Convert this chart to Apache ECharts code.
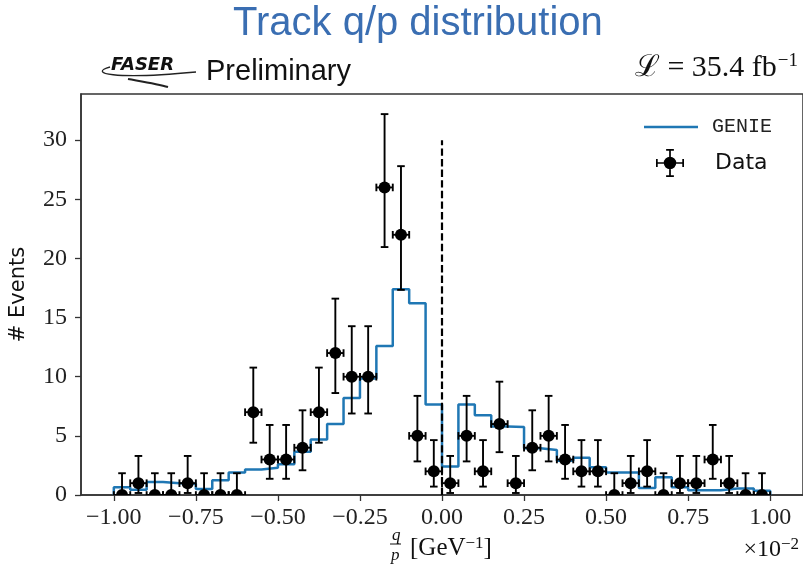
<!DOCTYPE html>
<html>
<head>
<meta charset="utf-8">
<script src="https://cdn.jsdelivr.net/npm/echarts@6/dist/echarts.min.js"></script>
<style>
html, body { margin: 0; padding: 0; background: #fff; }
#chart { width: 803px; height: 576px; }
</style>
</head>
<body>
<div id="chart"></div>
<script>
// histogram bins in q/p (x 10^-2 GeV^-1)
const binEdges = [-1.0, -0.95, -0.9, -0.85, -0.8, -0.75, -0.7, -0.65, -0.6, -0.55,
    -0.5, -0.45, -0.4, -0.35, -0.3, -0.25, -0.2, -0.15, -0.1, -0.05,
    0, 0.05, 0.1, 0.15, 0.2, 0.25, 0.3, 0.35, 0.4, 0.45,
    0.5, 0.55, 0.6, 0.65, 0.7, 0.75, 0.8, 0.85, 0.9, 0.95, 1.0];

// GENIE prediction per bin
const genieCounts = [0.65, 0.45, 1.1, 1.0, 0.95, 0.5, 1.25, 1.9, 2.15, 2.3,
    2.6, 3.65, 4.7, 6.0, 8.2, 9.85, 12.6, 17.4, 16.2, 7.65,
    2.4, 7.65, 6.75, 5.8, 5.75, 3.95, 3.8, 2.9, 3.15, 2.35,
    1.9, 1.9, 0.6, 1.5, 0.65, 0.4, 0.4, 0.55, 0.55, 0.35];

// observed events per bin and error bar bounds
const dataCounts = [0, 1, 0, 0, 1, 0, 0, 0, 7, 3,
    3, 4, 7, 12, 10, 10, 26, 22, 5, 2,
    1, 5, 2, 6, 1, 4, 5, 3, 2, 2,
    0, 1, 2, 0, 1, 1, 3, 1, 0, 0];
const dataErrLow = [0, 0.17, 0, 0, 0.17, 0, 0, 0, 4.42, 1.37,
    1.37, 2.09, 4.42, 8.62, 6.89, 6.89, 20.96, 17.34, 2.84, 0.71,
    0.17, 2.84, 0.71, 3.62, 0.17, 2.09, 2.84, 1.37, 0.71, 0.71,
    0, 0.17, 0.71, 0, 0.17, 0.17, 1.37, 0.17, 0, 0];
const dataErrHigh = [1.84, 3.3, 1.84, 1.84, 3.3, 1.84, 1.84, 1.84, 10.77, 5.92,
    5.92, 7.16, 10.77, 16.6, 14.27, 14.27, 32.2, 27.8, 8.38, 4.64,
    3.3, 8.38, 4.64, 9.58, 3.3, 7.16, 8.38, 5.92, 4.64, 4.64,
    1.84, 3.3, 4.64, 1.84, 3.3, 3.3, 5.92, 3.3, 1.84, 1.84];

const xTicks = [-1, -0.75, -0.5, -0.25, 0, 0.25, 0.5, 0.75, 1];
const yTicks = [0, 5, 10, 15, 20, 25, 30];
const cutLine = [[0, 0], [0, 30]];

const blue = '#1f77b4';
const axisColor = '#333';
const serif = "'Liberation Serif', 'DejaVu Serif', serif";
const sans = "'DejaVu Sans', sans-serif";

// step outline of the GENIE histogram
const genieLine = [[binEdges[0], 0]];
genieCounts.forEach((v, i) => genieLine.push([binEdges[i], v]));
genieLine.push([binEdges[binEdges.length - 1], genieCounts[genieCounts.length - 1]]);
genieLine.push([binEdges[binEdges.length - 1], 0]);

const dataPoints = dataCounts.map((n, i) => [
    (binEdges[i] + binEdges[i + 1]) / 2, n, dataErrLow[i], dataErrHigh[i], binEdges[i], binEdges[i + 1]
]);

function renderData(params, api) {
    const x = api.value(0), y = api.value(1);
    const c = api.coord([x, y]);
    const lo = api.coord([x, api.value(2)]);
    const hi = api.coord([x, api.value(3)]);
    const l = api.coord([api.value(4), y]);
    const r = api.coord([api.value(5), y]);
    const cap = 3.8;
    const st = { stroke: '#000', lineWidth: 1.9 };
    return {
        type: 'group',
        children: [
            { type: 'line', shape: { x1: c[0], y1: lo[1], x2: c[0], y2: hi[1] }, style: st },
            { type: 'line', shape: { x1: c[0] - cap, y1: lo[1], x2: c[0] + cap, y2: lo[1] }, style: st },
            { type: 'line', shape: { x1: c[0] - cap, y1: hi[1], x2: c[0] + cap, y2: hi[1] }, style: st },
            { type: 'line', shape: { x1: l[0], y1: c[1], x2: r[0], y2: c[1] }, style: st },
            { type: 'line', shape: { x1: l[0], y1: c[1] - cap, x2: l[0], y2: c[1] + cap }, style: st },
            { type: 'line', shape: { x1: r[0], y1: c[1] - cap, x2: r[0], y2: c[1] + cap }, style: st },
            { type: 'circle', shape: { cx: c[0], cy: c[1], r: 6 }, style: { fill: '#000' } }
        ]
    };
}

const dataIcon = 'path://M2 18.9H38V21.1H2Z M18.9 2H21.1V38H18.9Z M2 15H4.2V25H2Z M35.8 15H38V25H35.8Z ' +
    'M15 2H25V4.2H15Z M15 35.8H25V38H15Z M28 20A8 8 0 1 1 12 20A8 8 0 1 1 28 20Z';

const chart = echarts.init(document.getElementById('chart'));

const option = {
    animation: false,
    backgroundColor: '#fff',
    grid: {
        left: 81, top: 94, width: 724, height: 401,
        show: true, borderColor: axisColor, borderWidth: 1.5, backgroundColor: 'transparent'
    },
    legend: [
        {
            data: [{ name: 'GENIE', icon: 'rect' }],
            left: 644, top: 117, padding: 0,
            itemWidth: 54, itemHeight: 2.5,
            textStyle: { fontFamily: "'Liberation Mono', 'DejaVu Sans Mono', monospace", fontSize: 20, color: '#222', padding: [0, 0, 0, 9] }
        },
        {
            data: [{ name: 'Data', icon: dataIcon }],
            left: 656, top: 149, padding: 0,
            itemWidth: 28, itemHeight: 28,
            textStyle: { fontFamily: sans, fontSize: 22, color: '#111', padding: [0, 0, 0, 26] }
        }
    ],
    xAxis: {
        type: 'value', min: -1.1, max: 1.1,
        splitLine: { show: false },
        axisLine: { show: true, onZero: false, lineStyle: { color: axisColor, width: 1.5 } },
        axisTick: { show: true, length: 6, customValues: xTicks, lineStyle: { color: axisColor, width: 1.3 } },
        axisLabel: {
            customValues: xTicks, margin: 11,
            fontFamily: serif, fontSize: 24, color: '#222',
            formatter: v => (v < 0 ? '\u2212' : '') + Math.abs(v).toFixed(2)
        }
    },
    yAxis: {
        type: 'value', min: 0, max: 33.9,
        name: '# Events', nameLocation: 'middle', nameGap: 52, nameRotate: 90,
        nameTextStyle: { fontFamily: sans, fontSize: 21, color: '#111' },
        splitLine: { show: false },
        axisLine: { show: true, onZero: false, lineStyle: { color: axisColor, width: 1.5 } },
        axisTick: { show: true, length: 6, customValues: yTicks, lineStyle: { color: axisColor, width: 1.3 } },
        axisLabel: {
            customValues: yTicks, margin: 14,
            fontFamily: serif, fontSize: 24, color: '#222'
        }
    },
    series: [
        {
            name: 'GENIE', type: 'line', step: 'end',
            data: genieLine, showSymbol: false, symbol: 'none',
            lineStyle: { color: blue, width: 2.5 }, itemStyle: { color: blue },
            z: 2
        },
        {
            name: 'cut', type: 'line', data: cutLine, symbol: 'none',
            lineStyle: { color: '#000', width: 2.2, type: [7.4, 3.2] },
            z: 3, silent: true
        },
        {
            name: 'Data', type: 'custom', renderItem: renderData,
            data: dataPoints, clip: true,
            itemStyle: { color: '#000' },
            encode: { x: 0, y: 1 },
            z: 4
        }
    ],
    graphic: [
        {
            type: 'text', left: 233, top: 4,
            style: { text: 'Track q/p distribution', fontFamily: "'Liberation Sans', Arial, sans-serif", fontSize: 40, fill: '#3a6eb2' }
        },
        {
            type: 'text', left: 206, top: 57,
            style: { text: 'Preliminary', fontFamily: "'Liberation Sans', Arial, sans-serif", fontSize: 29, fill: '#111' }
        },
        {
            type: 'text', left: 111, top: 56,
            style: { text: 'FASER', fontFamily: sans, fontStyle: 'italic', fontWeight: 'bold', fontSize: 18, fill: '#111' }
        },
        {
            type: 'bezierCurve',
            shape: { x1: 110, y1: 67, cpx1: 88, cpy1: 73, cpx2: 112, cpy2: 80, x2: 196, y2: 72 },
            style: { stroke: '#222', lineWidth: 1.3, fill: null }
        },
        {
            type: 'bezierCurve',
            shape: { x1: 128, y1: 79, cpx1: 145, cpy1: 82, cpx2: 158, cpy2: 84, x2: 168, y2: 87 },
            style: { stroke: '#222', lineWidth: 2, fill: null }
        },
        {
            type: 'text', right: 5, top: 52,
            style: {
                text: '{a|\u2112 = 35.4 fb}{s|\u22121}',
                rich: {
                    a: { fontFamily: serif, fontSize: 30, fill: '#111' },
                    s: { fontFamily: serif, fontSize: 19, fill: '#111', verticalAlign: 'top', padding: [0, 0, 13, 1] }
                }
            }
        },
        {
            type: 'text', left: 392, top: 527,
            style: { text: 'q', fontFamily: serif, fontStyle: 'italic', fontSize: 17, fill: '#111' }
        },
        {
            type: 'line', shape: { x1: 390, y1: 544, x2: 401, y2: 544 },
            style: { stroke: '#111', lineWidth: 1 }
        },
        {
            type: 'text', left: 391, top: 547,
            style: { text: 'p', fontFamily: serif, fontStyle: 'italic', fontSize: 17, fill: '#111' }
        },
        {
            type: 'text', left: 410, top: 535,
            style: {
                text: '{a|[GeV}{s|\u22121}{a|]}',
                rich: {
                    a: { fontFamily: serif, fontSize: 25, fill: '#111' },
                    s: { fontFamily: serif, fontSize: 17, fill: '#111', padding: [0, 0, 10, 0] }
                }
            }
        },
        {
            type: 'text', right: 4, top: 536,
            style: {
                text: '{a|\u00d710}{s|\u22122}',
                rich: {
                    a: { fontFamily: serif, fontSize: 24, fill: '#111' },
                    s: { fontFamily: serif, fontSize: 17, fill: '#111', padding: [0, 0, 10, 0] }
                }
            }
        }
    ]
};

chart.setOption(option);
</script>
</body>
</html>
